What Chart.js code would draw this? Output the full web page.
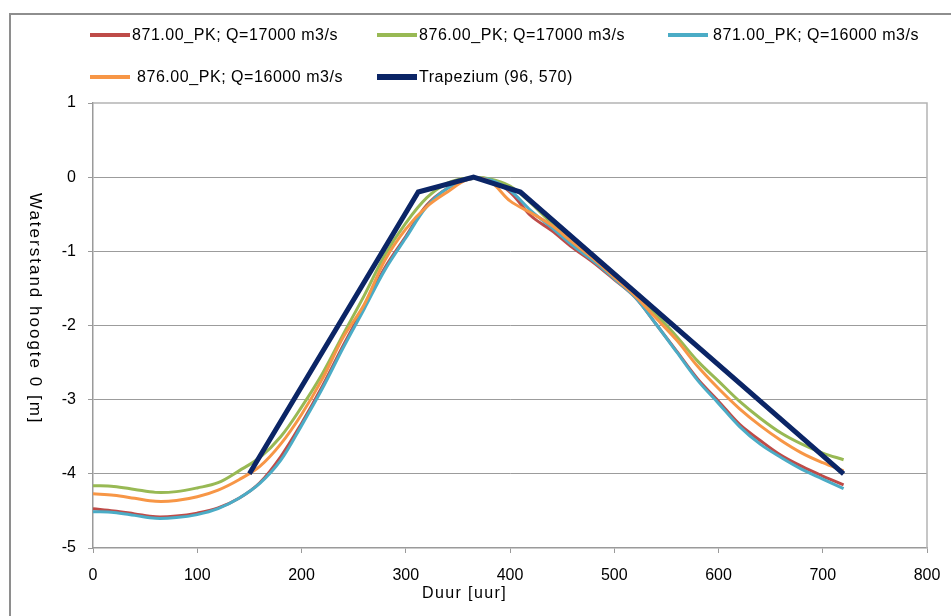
<!DOCTYPE html>
<html>
<head>
<meta charset="utf-8">
<script src="https://cdn.jsdelivr.net/npm/chart.js@4.4.1/dist/chart.umd.min.js"></script>
<style>
  body { margin: 0; background: #fff; }
  #wrap { position: relative; width: 951px; height: 616px; overflow: hidden; font-family: "Liberation Sans", Arial, sans-serif; color: #000; }
  #frame { position: absolute; left: 9px; top: 13px; width: 960px; height: 620px; border-left: 2px solid #8e8e8e; border-top: 2px solid #8e8e8e; }
  #grafiek { position: absolute; left: 0; top: 0; }
  .leg { position: absolute; font-size: 16px; letter-spacing: 0.55px; white-space: nowrap; line-height: 20px; }
  .leg span.lijn { position: absolute; width: 40px; }
  #ytitel { position: absolute; left: 25px; top: 193px; writing-mode: vertical-rl; font-size: 17px; letter-spacing: 2px; white-space: nowrap; }
  #xtitel { position: absolute; left: 422px; top: 584px; font-size: 16px; letter-spacing: 1.4px; white-space: nowrap; }
</style>
</head>
<body>
<div id="wrap">
  <div id="frame"></div>
  <canvas id="grafiek" width="951" height="616"></canvas>
  <div id="legenda"></div>
  <div id="ytitel">Waterstand hoogte 0 [m]</div>
  <div id="xtitel">Duur [uur]</div>
</div>
<script>
// tijd-as (uur) voor de gemeten reeksen
const duur = [0, 20, 40, 60, 80, 100, 120, 140, 160, 180, 200, 220, 240, 260, 280, 300, 320, 340, 360, 380,
              400, 420, 440, 460, 480, 500, 520, 540, 560, 580, 600, 620, 640, 660, 680, 700, 720];

const pk871_q17000 = [-4.47, -4.50, -4.54, -4.58, -4.57, -4.53, -4.46, -4.33, -4.12, -3.77, -3.32, -2.82, -2.27, -1.75, -1.22, -0.80, -0.38, -0.15, -0.03, -0.03,
                      -0.20, -0.52, -0.72, -0.95, -1.15, -1.38, -1.62, -1.98, -2.35, -2.72, -3.02, -3.33, -3.55, -3.75, -3.90, -4.03, -4.15];
const pk876_q17000 = [-4.16, -4.17, -4.21, -4.25, -4.24, -4.19, -4.12, -3.96, -3.78, -3.50, -3.10, -2.65, -2.12, -1.60, -1.05, -0.62, -0.28, -0.08, -0.01, -0.02,
                      -0.12, -0.35, -0.62, -0.85, -1.08, -1.32, -1.57, -1.85, -2.15, -2.48, -2.75, -3.02, -3.25, -3.45, -3.60, -3.72, -3.81];
const pk871_q16000 = [-4.51, -4.52, -4.56, -4.60, -4.59, -4.55, -4.47, -4.33, -4.13, -3.82, -3.35, -2.85, -2.30, -1.78, -1.25, -0.82, -0.40, -0.15, -0.03, -0.03,
                      -0.18, -0.45, -0.68, -0.92, -1.13, -1.37, -1.62, -1.98, -2.36, -2.74, -3.05, -3.36, -3.60, -3.78, -3.94, -4.07, -4.20];
const pk876_q16000 = [-4.27, -4.29, -4.33, -4.37, -4.36, -4.31, -4.22, -4.08, -3.90, -3.60, -3.20, -2.72, -2.16, -1.72, -1.12, -0.70, -0.40, -0.20, -0.03, -0.05,
                      -0.32, -0.48, -0.65, -0.88, -1.10, -1.35, -1.60, -1.90, -2.20, -2.55, -2.85, -3.12, -3.35, -3.55, -3.72, -3.85, -3.96];

// trapezium
const trapDuur = [150, 312, 365, 410, 720];
const trapHoogte = [-4, -0.2, 0, -0.2, -4];

const reeksen = [
  { label: '871.00_PK; Q=17000 m3/s', kleur: '#BE4B48', y: pk871_q17000, x: duur, dikte: 3, lx: 90, ly: 25, tx: 132 },
  { label: '876.00_PK; Q=17000 m3/s', kleur: '#98B954', y: pk876_q17000, x: duur, dikte: 3, lx: 377, ly: 25, tx: 419 },
  { label: '871.00_PK; Q=16000 m3/s', kleur: '#4BACC6', y: pk871_q16000, x: duur, dikte: 3, lx: 668, ly: 25, tx: 713 },
  { label: '876.00_PK; Q=16000 m3/s', kleur: '#F79646', y: pk876_q16000, x: duur, dikte: 3, lx: 90, ly: 67, tx: 137 },
  { label: 'Trapezium (96, 570)', kleur: '#0B2566', y: trapHoogte, x: trapDuur, dikte: 5, lx: 377, ly: 67, tx: 419 }
];

// legenda als html
const legenda = document.getElementById('legenda');
reeksen.forEach(r => {
  const d = document.createElement('div');
  d.className = 'leg';
  d.style.left = r.lx + 'px';
  d.style.top = r.ly + 'px';
  d.style.paddingLeft = (r.tx - r.lx) + 'px';
  d.innerHTML = '<span class="lijn" style="left:0;background:' + r.kleur + ';height:' + (r.dikte + 1) + 'px;top:' + (10 - (r.dikte + 1) / 2) + 'px"></span>' + r.label;
  legenda.appendChild(d);
});

// lichte rand boven en rechts van het plotvlak
const kader = {
  id: 'kader',
  beforeDatasetsDraw(chart) {
    const a = chart.chartArea;
    const ctx = chart.ctx;
    ctx.save();
    ctx.strokeStyle = '#b4b4b4';
    ctx.lineWidth = 1.5;
    ctx.beginPath();
    ctx.moveTo(a.left, a.top);
    ctx.lineTo(a.right, a.top);
    ctx.lineTo(a.right, a.bottom);
    ctx.stroke();
    ctx.restore();
  }
};

const datasets = reeksen.map((r, i) => ({
  label: r.label,
  data: r.x.map((x, j) => ({ x: x, y: r.y[j] })),
  borderColor: r.kleur,
  backgroundColor: r.kleur,
  borderWidth: r.dikte,
  pointRadius: 0,
  tension: i === 4 ? 0 : 0.35,
  fill: false,
  order: 5 - i
}));

const tickFont = { family: 'Liberation Sans', size: 16 };

const config = {
  type: 'line',
  data: { datasets: datasets },
  options: {
    responsive: false,
    animation: false,
    layout: { padding: { top: 103, right: 0, left: 0, bottom: 0 } },
    plugins: {
      legend: { display: false },
      tooltip: { enabled: false }
    },
    scales: {
      x: {
        type: 'linear',
        min: 0,
        max: 800,
        afterFit(scale) {
          scale.height = 68;
          scale.paddingLeft = 0;
          scale.paddingRight = 0;
        },
        border: { color: '#9a9a9a', width: 1.5 },
        grid: { drawOnChartArea: false, tickLength: 5, tickColor: '#9a9a9a' },
        ticks: { stepSize: 100, padding: 13, color: '#000', font: tickFont }
      },
      y: {
        min: -5,
        max: 1,
        afterFit(scale) { scale.width = 93; },
        border: { color: '#9a9a9a', width: 1.5 },
        grid: {
          color: ctx => (ctx.tick && (ctx.tick.value === -5 || ctx.tick.value === 1)) ? 'rgba(0,0,0,0)' : '#9c9c9c',
          borderDash: [8, 3, 2, 3],
          lineWidth: 1,
          tickLength: 5,
          tickColor: '#9a9a9a',
          tickBorderDash: []
        },
        ticks: { stepSize: 1, padding: 12, color: '#000', font: tickFont }
      },
      // lege as rechts: houdt ruimte vrij naast het plotvlak
      yRechts: {
        position: 'right',
        min: -5,
        max: 1,
        afterFit(scale) { scale.width = 24; },
        border: { display: false },
        grid: { display: false },
        ticks: { display: false }
      }
    }
  },
  plugins: [kader]
};

const mijnGrafiek = new Chart(document.getElementById('grafiek'), config);
</script>
</body>
</html>
